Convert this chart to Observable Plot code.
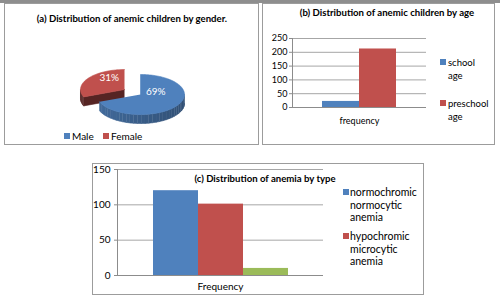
<!DOCTYPE html>
<html><head><meta charset="utf-8">
<script src="https://cdn.jsdelivr.net/npm/d3@7"></script>
<script src="https://cdn.jsdelivr.net/npm/@observablehq/plot@0.6"></script>
<style>
body{margin:0;background:#fff;font-family:Lato,"Open Sans",sans-serif;}
#page{position:relative;width:500px;height:303px;overflow:hidden;background:#fff}
.topband{position:absolute;left:0;top:0;width:500px;height:3px;background:#8e8e8e}
.box{position:absolute;border:1px solid #9c9c9c;box-sizing:border-box}
.svgwrap{position:absolute}
.title{position:absolute;font-weight:bold;font-size:9.6px;white-space:nowrap;transform:translate(-50%,-50%);color:#000;line-height:12px}
.lt{position:absolute;white-space:nowrap;color:#000;transform:translateY(-50%)}
.sw{position:absolute;width:6px;height:6px;transform:translateY(-50%)}
</style></head><body><div id="page"></div>
<script>
// ---------- data ----------
const genderLabels = ["Male", "Female"];
const genderPct = [69, 31];

const ageCategory = ["frequency"];
const ageSeries = ["school age", "preschool age"];
const ageValues = [22, 212];
const ageTicks = [0, 50, 100, 150, 200, 250];

const typeCategory = ["Frequency"];
const typeSeries = ["normochromic normocytic anemia", "hypochromic microcytic anemia", "other"];
const typeValues = [120, 101, 10];
const typeTicks = [0, 50, 100, 150];

const seriesColors = ["#4F81BD", "#C0504D", "#9BBB59"];

// ---------- page ----------
const page = document.getElementById("page");
function el(cls, css, html) {
  const d = document.createElement("div");
  d.className = cls;
  Object.assign(d.style, css);
  if (html != null) d.textContent = html;
  page.appendChild(d);
  return d;
}
el("topband", {});
el("box", {left: "4px", top: "3px", width: "255px", height: "142px"});
el("box", {left: "262px", top: "3px", width: "233px", height: "142px"});
el("box", {left: "92px", top: "163px", width: "332px", height: "132px"});

function place(node, left, top) {
  const w = el("svgwrap", {left: left + "px", top: top + "px"});
  w.appendChild(node);
}

// ---------- (a) 3D pie ----------
{
  const W = 255, H = 142;
  const cx = 136, cy = 91, rx = 44, ry = 20, depthPx = 9;
  const depthU = depthPx / ry; // in y-domain units
  const explode = [0, 0.44];
  const arcs = d3.pie().sort(null).startAngle(0).endAngle(2 * Math.PI)(genderPct);
  const rows = [];
  const labels = [];
  const mix = (c, k) => d3.interpolateRgb(c, "#000")(k);
  let pid = 0;
  const order = [1, 0]; // back slice first
  for (const i of order) {
    const a = arcs[i];
    const mid = (a.startAngle + a.endAngle) / 2;
    const ox = explode[i] * Math.sin(mid), oy = -explode[i] * Math.cos(mid);
    const base = seriesColors[i];
    const P = (t, z) => ({x: ox + Math.sin(t), y: oy - Math.cos(t) + z});
    if (Math.sin(a.startAngle) < -1e-6) {
      const id = pid++;
      const f = mix(base, 0.55);
      [{x: ox, y: oy}, P(a.startAngle, 0), P(a.startAngle, depthU), {x: ox, y: oy + depthU}]
        .forEach(p => rows.push({id, fill: f, ...p}));
    }
    if (Math.sin(a.endAngle) > 1e-6) {
      const id = pid++;
      const f = mix(base, 0.55);
      [{x: ox, y: oy}, P(a.endAngle, 0), P(a.endAngle, depthU), {x: ox, y: oy + depthU}]
        .forEach(p => rows.push({id, fill: f, ...p}));
    }
    const t0 = Math.max(a.startAngle, Math.PI / 2), t1 = Math.min(a.endAngle, 3 * Math.PI / 2);
    if (t1 > t0) {
      const n = Math.max(1, Math.ceil((t1 - t0) / (Math.PI / 36)));
      for (let k = 0; k < n; k++) {
        const s0 = t0 + (t1 - t0) * k / n, s1 = t0 + (t1 - t0) * (k + 1) / n;
        const sm = (s0 + s1) / 2;
        const shade = i === 0 ? 0.18 + 0.2 * (Math.sin(sm) + 1) / 2 : 0.55;
        const f = mix(base, shade);
        const id = pid++;
        [P(s0, 0), P(s1, 0), P(s1, depthU), P(s0, depthU)].forEach(p => rows.push({id, fill: f, ...p}));
      }
    }
    {
      const id = pid++;
      rows.push({id, fill: base, x: ox, y: oy});
      const n = Math.ceil((a.endAngle - a.startAngle) / (Math.PI / 90));
      for (let k = 0; k <= n; k++) {
        const t = a.startAngle + (a.endAngle - a.startAngle) * k / n;
        rows.push({id, fill: base, ...P(t, 0)});
      }
    }
    labels.push({text: genderPct[i] + "%", x: ox + 0.42 * Math.sin(mid), y: oy - 0.42 * Math.cos(mid)});
  }
  const chart = Plot.plot({
    width: W, height: H, margin: 0,
    style: {fontFamily: "Lato, sans-serif", background: "transparent", overflow: "visible"},
    x: {domain: [-1, 1], range: [cx - rx, cx + rx], axis: null},
    y: {domain: [-1, 1], range: [cy - ry, cy + ry], axis: null},
    color: {type: "identity"},
    marks: [
      Plot.line(rows, {x: "x", y: "y", z: "id", fill: "fill", stroke: "fill", strokeWidth: 0.6, curve: "linear"}),
      Plot.text(labels, {x: "x", y: "y", text: "text", fill: "#fff", fontSize: 10, dy: -7})
    ]
  });
  place(chart, 4, 3);
  el("title", {left: "132px", top: "19px"}, "(a) Distribution of anemic children by gender.");
  const legX = [64, 103];
  genderLabels.forEach((g, i) => {
    el("sw", {left: legX[i] + "px", top: "136px", background: seriesColors[i]});
    el("lt", {left: (legX[i] + 8) + "px", top: "136px", fontSize: "10px"}, g);
  });
}

// ---------- (b) bars by age ----------
{
  const data = ageSeries.map((s, i) => ({category: ageCategory[0], series: s, value: ageValues[i]}));
  const chart = Plot.plot({
    width: 233, height: 141, marginLeft: 30, marginRight: 69, marginTop: 34, marginBottom: 38,
    style: {fontFamily: "Lato, sans-serif", fontSize: "9px", color: "#000", background: "transparent", overflow: "visible"},
    fx: {domain: ageCategory, padding: 0, label: null},
    x: {domain: ageSeries, paddingInner: 0, paddingOuter: 0.79, axis: null},
    y: {domain: [0, 250], label: null},
    color: {domain: ageSeries, range: seriesColors},
    marks: [
      Plot.gridY(ageTicks, {stroke: "#a6a6a6", strokeOpacity: 1}),
      Plot.axisY(ageTicks, {tickSize: 3, tickPadding: 2, stroke: "#8c8c8c", label: null, fontSize: 9}),
      Plot.axisFx({anchor: "bottom", tickSize: 0, tickPadding: 10, label: null, fontSize: 9}),
      Plot.barY(data, {fx: "category", x: "series", y: "value", fill: "series"}),
      Plot.ruleY([0], {stroke: "#8c8c8c"}),
      Plot.frame({anchor: "left", stroke: "#8c8c8c"})
    ]
  });
  place(chart, 262, 4);
  el("title", {left: "387px", top: "13px"}, "(b) Distribution of anemic children by age");
  const lines = [["school", "age"], ["preschool", "age"]];
  const legY = [62, 103];
  lines.forEach((ls, i) => {
    el("sw", {left: "440px", top: legY[i] + "px", background: seriesColors[i]});
    ls.forEach((t, j) => el("lt", {left: "448px", top: (legY[i] + j * 13) + "px", fontSize: "9.5px"}, t));
  });
}

// ---------- (c) bars by type ----------
{
  const data = typeSeries.map((s, i) => ({category: typeCategory[0], series: s, value: typeValues[i]}));
  const chart = Plot.plot({
    width: 332, height: 132, marginLeft: 25, marginRight: 101, marginTop: 6, marginBottom: 20,
    style: {fontFamily: "Lato, sans-serif", fontSize: "10px", color: "#000", background: "transparent", overflow: "visible"},
    fx: {domain: typeCategory, padding: 0, label: null},
    x: {domain: typeSeries, paddingInner: 0, paddingOuter: 0.77, axis: null},
    y: {domain: [0, 150], label: null},
    color: {domain: typeSeries, range: seriesColors},
    marks: [
      Plot.gridY(typeTicks, {stroke: "#a6a6a6", strokeOpacity: 1}),
      Plot.axisY(typeTicks, {tickSize: 3, tickPadding: 4, stroke: "#8c8c8c", label: null, fontSize: 10}),
      Plot.axisFx({anchor: "bottom", tickSize: 0, tickPadding: 7, label: null, fontSize: 10}),
      Plot.barY(data, {fx: "category", x: "series", y: "value", fill: "series"}),
      Plot.ruleY([0], {stroke: "#8c8c8c"}),
      Plot.frame({anchor: "left", stroke: "#8c8c8c"})
    ]
  });
  place(chart, 92, 163);
  el("title", {left: "265px", top: "179px"}, "(c) Distribution of anemia by type");
  const lines = [["normochromic", "normocytic", "anemia"], ["hypochromic", "microcytic", "anemia"]];
  const legY = [192, 236];
  lines.forEach((ls, i) => {
    el("sw", {left: "343px", top: legY[i] + "px", background: seriesColors[i]});
    ls.forEach((t, j) => el("lt", {left: "350px", top: (legY[i] + j * 12.5) + "px", fontSize: "10.5px"}, t));
  });
}
</script>
</body></html>
